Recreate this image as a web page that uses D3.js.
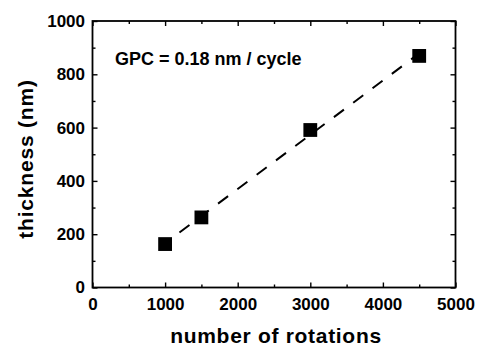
<!DOCTYPE html>
<html>
<head>
<meta charset="utf-8">
<script src="https://cdn.jsdelivr.net/npm/d3@7/dist/d3.min.js"></script>
<style>
  html, body { margin: 0; padding: 0; background: #fff; }
  svg { display: block; }
  text { font-family: "Liberation Sans", Arial, Helvetica, sans-serif; font-weight: bold; fill: #000; }
</style>
</head>
<body>
<svg id="chart" width="478" height="346"></svg>
<script>
// Film thickness versus number of rotations
const rotations = [1000, 1500, 3000, 4500];
const thickness = [163, 263, 591, 869];

const xTickValues = [0, 1000, 2000, 3000, 4000, 5000];
const yTickValues = [0, 200, 400, 600, 800, 1000];
const xMinorValues = [500, 1500, 2500, 3500, 4500];
const yMinorValues = [100, 300, 500, 700, 900];

const xTitle = "number of rotations";
const yTitle = "thickness (nm)";
const annotation = "GPC = 0.18 nm / cycle";

const W = 478, H = 346;
const plot = { left: 92.5, right: 455.5, top: 21, bottom: 287.5 };

const svg = d3.select("#chart");
svg.append("rect").attr("width", W).attr("height", H).attr("fill", "#fff");

const x = d3.scaleLinear().domain([0, 5000]).range([plot.left, plot.right]);
const y = d3.scaleLinear().domain([0, 1000]).range([plot.bottom, plot.top]);

// Major/minor ticks point inward on all four sides
function styleAxis(g) {
  g.select(".domain").remove();
  g.selectAll(".tick line").attr("stroke", "#000").attr("stroke-width", 1.4);
  g.selectAll(".tick text").attr("font-size", 17).attr("font-family", null).attr("fill", "#000");
}

svg.append("g").attr("transform", `translate(0,${plot.bottom})`)
  .call(d3.axisBottom(x).tickValues(xTickValues).tickSizeInner(-5).tickSizeOuter(0).tickPadding(10.5).tickFormat(d3.format("d")))
  .call(styleAxis);
svg.append("g").attr("transform", `translate(0,${plot.bottom})`)
  .call(d3.axisBottom(x).tickValues(xMinorValues).tickSizeInner(-3).tickSizeOuter(0).tickFormat(""))
  .call(styleAxis);
svg.append("g").attr("transform", `translate(0,${plot.top})`)
  .call(d3.axisTop(x).tickValues(xTickValues).tickSizeInner(-5).tickSizeOuter(0).tickFormat(""))
  .call(styleAxis);
svg.append("g").attr("transform", `translate(0,${plot.top})`)
  .call(d3.axisTop(x).tickValues(xMinorValues).tickSizeInner(-3).tickSizeOuter(0).tickFormat(""))
  .call(styleAxis);

svg.append("g").attr("transform", `translate(${plot.left},0)`)
  .call(d3.axisLeft(y).tickValues(yTickValues).tickSizeInner(-5).tickSizeOuter(0).tickPadding(7.5).tickFormat(d3.format("d")))
  .call(styleAxis);
svg.append("g").attr("transform", `translate(${plot.left},0)`)
  .call(d3.axisLeft(y).tickValues(yMinorValues).tickSizeInner(-3).tickSizeOuter(0).tickFormat(""))
  .call(styleAxis);
svg.append("g").attr("transform", `translate(${plot.right},0)`)
  .call(d3.axisRight(y).tickValues(yTickValues).tickSizeInner(-5).tickSizeOuter(0).tickFormat(""))
  .call(styleAxis);
svg.append("g").attr("transform", `translate(${plot.right},0)`)
  .call(d3.axisRight(y).tickValues(yMinorValues).tickSizeInner(-3).tickSizeOuter(0).tickFormat(""))
  .call(styleAxis);

// Frame
svg.append("rect")
  .attr("x", plot.left).attr("y", plot.top)
  .attr("width", plot.right - plot.left).attr("height", plot.bottom - plot.top)
  .attr("fill", "none").attr("stroke", "#000").attr("stroke-width", 1.8);

// Least-squares linear fit through the measurements
const mx = d3.mean(rotations), my = d3.mean(thickness);
const sxy = d3.sum(rotations, (r, i) => (r - mx) * (thickness[i] - my));
const sxx = d3.sum(rotations, r => (r - mx) * (r - mx));
const slope = sxy / sxx, intercept = my - slope * mx;
const fitRange = d3.extent(rotations);

svg.append("path")
  .datum(fitRange)
  .attr("d", d3.line().x(d => x(d)).y(d => y(intercept + slope * d)))
  .attr("fill", "none")
  .attr("stroke", "#000")
  .attr("stroke-width", 2)
  .attr("stroke-dasharray", "12.5,11.6")
  .attr("stroke-dashoffset", 6.2);

// Square markers
const size = 13.8;
svg.append("g").selectAll("rect")
  .data(rotations)
  .join("rect")
  .attr("x", d => x(d) - size / 2)
  .attr("y", (d, i) => y(thickness[i]) - size / 2)
  .attr("width", size).attr("height", size)
  .attr("fill", "#000");

// Annotation
svg.append("text")
  .attr("x", 115).attr("y", 64.5)
  .attr("font-size", 18)
  .text(annotation);

// Axis titles
svg.append("text")
  .attr("x", (plot.left + plot.right) / 2 + 2).attr("y", 343)
  .attr("text-anchor", "middle")
  .attr("font-size", 21)
  .attr("letter-spacing", 0.7)
  .text(xTitle);

svg.append("text")
  .attr("transform", `translate(32.5,159) rotate(-90)`)
  .attr("text-anchor", "middle")
  .attr("font-size", 21)
  .attr("letter-spacing", 0.8)
  .text(yTitle);
</script>
</body>
</html>
